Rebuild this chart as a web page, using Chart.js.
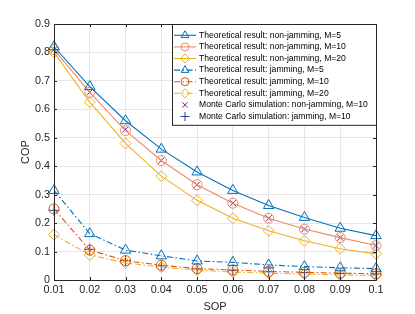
<!DOCTYPE html>
<html><head><meta charset="utf-8">
<script src="https://cdn.jsdelivr.net/npm/chart.js@4.4.0/dist/chart.umd.min.js"></script>
<style>html,body{margin:0;padding:0;background:#fff}#w{width:415px;height:314px;position:relative}</style>
</head><body><div id="w"><canvas id="c" width="415" height="314"></canvas></div>
<script>
const sop = [0.01,0.02,0.03,0.04,0.05,0.06,0.07,0.08,0.09,0.1];
const xTicks = ["0.01","0.02","0.03","0.04","0.05","0.06","0.07","0.08","0.09","0.1"];
const yTicks = ["0","0.1","0.2","0.3","0.4","0.5","0.6","0.7","0.8","0.9"];
const nonJamM5  = [0.82,0.68,0.56,0.46,0.38,0.315,0.262,0.22,0.182,0.156];
const nonJamM10 = [0.81,0.66,0.525,0.42,0.335,0.27,0.217,0.179,0.149,0.121];
const nonJamM20 = [0.80,0.625,0.48,0.365,0.28,0.217,0.173,0.138,0.11,0.092];
const jamM5  = [0.315,0.163,0.105,0.085,0.067,0.062,0.053,0.047,0.043,0.04];
const jamM10 = [0.25,0.105,0.068,0.052,0.04,0.035,0.03,0.027,0.024,0.022];
const jamM20 = [0.16,0.088,0.06,0.045,0.035,0.028,0.024,0.021,0.018,0.016];
const mcNonJamM10 = [0.81,0.66,0.53,0.42,0.335,0.27,0.217,0.179,0.149,0.121];
const mcJamM10 = [0.245,0.108,0.068,0.05,0.039,0.034,0.029,0.026,0.023,0.021];
const labels = [
 "Theoretical result: non-jamming, M=5",
 "Theoretical result: non-jamming, M=10",
 "Theoretical result: non-jamming, M=20",
 "Theoretical result: jamming, M=5",
 "Theoretical result: jamming, M=10",
 "Theoretical result: jamming, M=20",
 "Monte Carlo simulation: non-jamming, M=10",
 "Monte Carlo simulation: jamming, M=10"
];
const blue='#0072BD', salmon='#EE8A66', orange='#D95319', yellow='#EDB120', purple='#7E2F8E', navy='#2A3F95';
const dashDot=[6,2.5,1.5,2.5];
const pts = a => a.map((v,i)=>({x:sop[i],y:v}));
function ds(label,data,color,style,radius,dash,showLine,legR){
  return {label,data:pts(data),borderColor:color,backgroundColor:'rgba(0,0,0,0)',pointBorderColor:color,
    pointBackgroundColor:'rgba(0,0,0,0)',pointStyle:style,pointRadius:radius,pointBorderWidth:1,
    borderWidth:1.1,borderDash:dash||[],showLine:showLine!==false,tension:0,clip:false,legR:legR};
}
const datasets=[
  ds(labels[0],nonJamM5,blue,'triangle',6,null,true,4.5),
  ds(labels[1],nonJamM10,salmon,'circle',5,null,true,4),
  ds(labels[2],nonJamM20,yellow,'rectRot',5.5,null,true,4.5),
  ds(labels[3],jamM5,blue,'triangle',6,dashDot,true,4.5),
  ds(labels[4],jamM10,orange,'circle',5,dashDot,true,4),
  ds(labels[5],jamM20,yellow,'rectRot',5.5,dashDot,true,4.5),
  ds(labels[6],mcNonJamM10,purple,'crossRot',4.5,null,false,3.8),
  ds(labels[7],mcJamM10,navy,'cross',5.5,null,false,4.5)
];
const font='"Liberation Sans", Arial, sans-serif';
const frame={id:'frame',afterDraw(ch){
  const {ctx,chartArea:a,scales}=ch;
  ctx.save();ctx.strokeStyle='#262626';ctx.lineWidth=1;
  ctx.beginPath();ctx.rect(a.left+0.5,a.top+0.5,a.right-a.left,a.bottom-a.top);ctx.stroke();
  ctx.beginPath();
  sop.forEach(v=>{const x=Math.round(scales.x.getPixelForValue(v))+0.5;ctx.moveTo(x,a.bottom);ctx.lineTo(x,a.bottom-3);ctx.moveTo(x,a.top);ctx.lineTo(x,a.top+3);});
  yTicks.forEach(t=>{const y=Math.round(scales.y.getPixelForValue(+t))+0.5;ctx.moveTo(a.left,y);ctx.lineTo(a.left+3,y);ctx.moveTo(a.right,y);ctx.lineTo(a.right-3,y);});
  ctx.stroke();
  const lx=172.5, ly=24.5, lw=a.right-172, rowH=11.6, lh=rowH*8+8;
  ctx.fillStyle='#fff';ctx.fillRect(lx,ly,lw,lh);
  ctx.strokeStyle='#262626';ctx.strokeRect(lx,ly,lw,lh);
  ctx.font='8.6px '+font;ctx.textBaseline='middle';ctx.textAlign='left';
  ch.data.datasets.forEach((d,i)=>{
    const y=ly+5+rowH*(i+0.5);
    if(d.showLine){ctx.save();ctx.strokeStyle=d.borderColor;ctx.lineWidth=1.1;ctx.setLineDash(d.borderDash);
      ctx.beginPath();ctx.moveTo(lx+1.5,y);ctx.lineTo(lx+23.5,y);ctx.stroke();ctx.restore();}
    ctx.save();ctx.strokeStyle=d.pointBorderColor;ctx.fillStyle='rgba(0,0,0,0)';ctx.lineWidth=1;
    Chart.helpers.drawPoint(ctx,{pointStyle:d.pointStyle,radius:d.legR,rotation:0,borderWidth:1},lx+12.5,y);ctx.restore();
    ctx.fillStyle='#000';ctx.fillText(d.label,lx+26.5,y);
  });
  ctx.restore();
}};
new Chart(document.getElementById('c'),{
  type:'scatter',
  data:{datasets},
  options:{responsive:false,animation:false,
    layout:{padding:{top:24,right:39,left:0,bottom:0}},
    plugins:{legend:{display:false},tooltip:{enabled:false}},
    scales:{
      x:{type:'linear',min:0.01,max:0.1,
        afterBuildTicks:s=>{s.ticks=sop.map(v=>({value:v}));},
        afterFit:s=>{s.height=34;},
        grid:{color:'#e6e6e6',drawTicks:false},border:{display:false},
        ticks:{padding:4,color:'#262626',font:{family:font,size:10.8},maxRotation:0,callback:(v,i)=>xTicks[i]},
        title:{display:true,text:'SOP',color:'#262626',font:{family:font,size:11},padding:{top:1,bottom:0}}},
      y:{type:'linear',min:0,max:0.9,
        afterBuildTicks:s=>{s.ticks=yTicks.map(t=>({value:+t}));},
        afterFit:s=>{s.width=54;},
        grid:{color:'#e6e6e6',drawTicks:false},border:{display:false},
        ticks:{padding:4,color:'#262626',font:{family:font,size:10.8},callback:(v,i)=>yTicks[i]},
        title:{display:true,text:'COP',color:'#262626',font:{family:font,size:11},padding:{top:19,bottom:0}}}
    }
  },
  plugins:[frame]
});
</script></body></html>
